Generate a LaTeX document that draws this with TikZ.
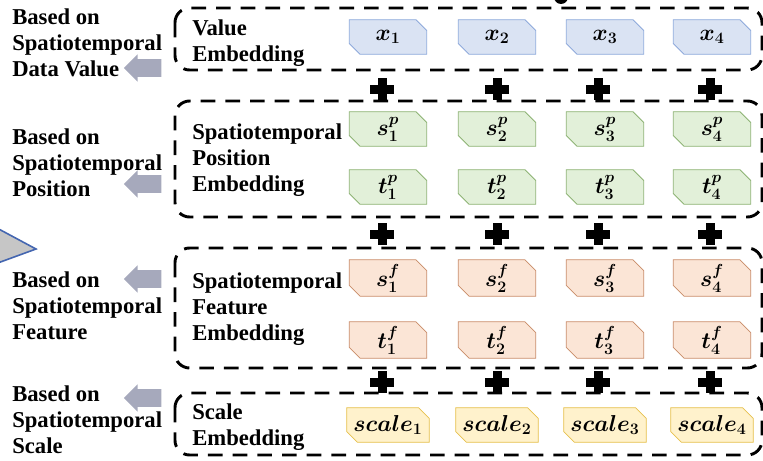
\documentclass[tikz,border=0pt]{standalone}
\usepackage{fontspec}
\setmainfont{Liberation Serif}
\usepackage{amsmath, bm}
\usetikzlibrary{shapes.misc, shapes.arrows}

\definecolor{valfill}{HTML}{DAE3F3}
\definecolor{valline}{HTML}{8EA9DB}
\definecolor{posfill}{HTML}{E2F0D9}
\definecolor{posline}{HTML}{8DB374}
\definecolor{feafill}{HTML}{FBE5D6}
\definecolor{fealine}{HTML}{C98B68}
\definecolor{scafill}{HTML}{FFF2CC}
\definecolor{scaline}{HTML}{E6C04D}
\definecolor{arrowgray}{HTML}{A6A9BC}
\definecolor{wedgeblue}{HTML}{4466B0}

\tikzset{
  tile/.style={chamfered rectangle, chamfered rectangle corners={north east,south west},
    chamfered rectangle xsep=5pt, minimum width=58pt, minimum height=26pt,
    inner sep=0pt, line width=0.6pt, font=\fontsize{18}{20}\selectfont},
  group/.style={draw, line width=2.2pt, dash pattern=on 11pt off 7.5pt, rounded corners=11pt},
  lbl/.style={font=\bfseries\fontsize{17}{19.5}\selectfont, align=left, anchor=base west, inner sep=0pt},
  back/.style={single arrow, shape border rotate=180, fill=arrowgray, draw=none,
    inner sep=6.4pt, minimum height=28pt, single arrow head extend=3.6pt}
}

\begin{document}
\begin{tikzpicture}[x=0.75pt,y=-0.75pt]
	\useasboundingbox (0,0) rectangle (763,460);
	\clip (0,0) rectangle (763,460);
            % piece of the wedge on the left and the blob on top
            \filldraw[fill=gray!45, draw=wedgeblue, line width=1.2pt] (-5,227) -- (36,249) -- (-5,264) -- cycle;
            \fill (561,-3) ellipse [x radius=7, y radius=7];

            % dashed groups
            \draw[group] (175,8) rectangle (762,70);
            \draw[group] (175,101) rectangle (762,217);
            \draw[group] (175,248) rectangle (762,368);
            \draw[group] (175,393) rectangle (762,455);

            \foreach \i/\cx in {1/388, 2/497, 3/605, 4/712}{
              \node[tile, fill=valfill, draw=valline] (x\i) at (\cx,37) {$\bm{x_{\i}}$};
              \node[tile, fill=posfill, draw=posline] (sp\i) at (\cx,129) {$\bm{s_{\i}^{p}}$};
              \node[tile, fill=posfill, draw=posline] (tp\i) at (\cx,187) {$\bm{t_{\i}^{p}}$};
              \node[tile, fill=feafill, draw=fealine] (sf\i) at (\cx,278) {$\bm{s_{\i}^{f}}$};
              \node[tile, fill=feafill, draw=fealine] (tf\i) at (\cx,340) {$\bm{t_{\i}^{f}}$};
              \node[tile, fill=scafill, draw=scaline] (sc\i) at (\cx,425) {$\bm{scale_{\i}}$};
            }

            \foreach \px in {382, 497, 598, 710}
              \foreach \py in {89, 234, 382}{
                \fill (\px-12,\py-4.5) rectangle (\px+12,\py+4.5);
                \fill (\px-4.5,\py-11) rectangle (\px+4.5,\py+11);
              }

            % the base anchor sits on the last line
            \node[lbl] (valtxt) at (192,62) {Value\\Embedding};
            \node[lbl] (postxt) at (192,191) {Spatiotemporal\\Position\\Embedding};
            \node[lbl] (featxt) at (192,340) {Spatiotemporal\\Feature\\Embedding};
            \node[lbl] (scatxt) at (192,445) {Scale\\Embedding};

            \node[lbl] (valbase) at (12,76) {Based on\\Spatiotemporal\\Data Value};
            \node[lbl] (posbase) at (12,196) {Based on\\Spatiotemporal\\Position};
            \node[lbl] (feabase) at (12,339) {Based on\\Spatiotemporal\\Feature};
            \node[lbl] (scabase) at (12,453) {Based on\\Spatiotemporal\\Scale};

            \node[back] (valarr) at (147,68) {};
            \node[back] (posarr) at (147,184) {};
            \node[back] (feaarr) at (147,279) {};
            \node[back] (scaarr) at (147,398) {};
                \end{tikzpicture}
\end{document}
